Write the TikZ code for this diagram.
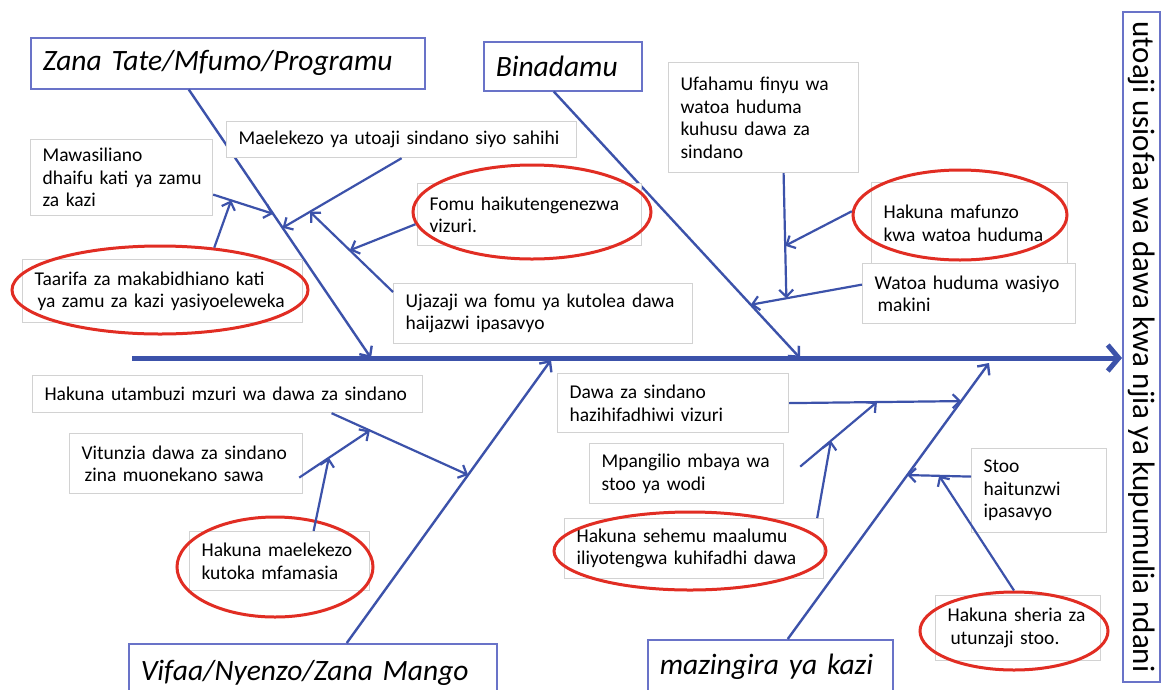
\documentclass[tikz,border=0pt]{standalone}
\usepackage{fontspec}
\setmainfont{Carlito}
\usetikzlibrary{arrows.meta,shapes.geometric,calc}
\definecolor{bone}{RGB}{60,82,170}
\definecolor{hdr}{RGB}{105,115,200}
\definecolor{boxgray}{RGB}{210,210,210}
\definecolor{ovred}{RGB}{225,45,35}
\newcommand\tline[1]{\mbox{#1}}
\begin{document}
\begin{tikzpicture}[x=1pt,y=-1pt,
  cause/.style={draw=boxgray, line width=1.2pt, fill=white, anchor=north west, align=left,
    inner xsep=12pt, inner ysep=0pt, font=\fontsize{19.5}{22.5}\selectfont},
  hdrbox/.style={draw=hdr, line width=1.5pt, fill=white, anchor=north west, align=left,
    inner xsep=12pt, inner ysep=0pt, font=\fontsize{29.5}{33}\selectfont\itshape},
  oval/.style={ellipse, draw=ovred, line width=3pt, inner sep=0pt},
  arr/.style={draw=bone, line width=2.2pt, -{Straight Barb[length=7pt,width=14pt]}},
  bonearr/.style={draw=bone, line width=2.4pt, -{Straight Barb[length=8pt,width=15pt]}},
  spine/.style={draw=bone, line width=5pt, -{Straight Barb[length=11pt,width=26pt]}}
]
\useasboundingbox (0,0) rectangle (1162,689);
\fill[white] (0,0) rectangle (1162,689);

% headers
\node[hdrbox, minimum width=394, minimum height=51, text width=370] (h1) at (30,37) {\tline{Zana Tate/Mfumo/Programu}};
\node[hdrbox, minimum width=158, minimum height=49, text width=134] (h2) at (483,41) {\tline{Binadamu}};
\node[hdrbox, minimum width=368, minimum height=58, text width=344] (h3) at (128,643) {\tline{Vifaa/Nyenzo/Zana Mango}};
\node[hdrbox, minimum width=245, minimum height=54, text width=221] (h4) at (647,639) {\tline{mazingira ya kazi}};
\node[draw=hdr, line width=1.5pt, fill=white, rotate=-90, minimum width=670, minimum height=37,
  inner sep=0pt, font=\fontsize{31}{34}\selectfont] (r) at (1141.5,347) {utoaji usiofaa wa dawa kwa njia ya kupumulia ndani};

% bones and spine
\coordinate (b1a) at ([xshift=-39pt]h1.south);
\coordinate (b1b) at (371,358);
\coordinate (b2a) at ([xshift=-9pt]h2.south);
\coordinate (b2b) at (800,358);
\coordinate (b3a) at ([xshift=34pt]h3.north);
\coordinate (b3b) at (551,360);
\coordinate (b4a) at ([xshift=17.5pt]h4.north);
\coordinate (b4b) at (989,363);
\coordinate (spS) at (132,358);
\coordinate (spE) at (1122,358);

\draw[spine] (spS) -- (spE);
\draw[bonearr] (b1a) -- (b1b);
\draw[bonearr] (b2a) -- (b2b);
\draw[bonearr] (b3a) -- (b3b);
\draw[bonearr] (b4a) -- (b4b);

% cause boxes
\node[cause, minimum width=182, minimum height=76, text width=158] (c1) at (30,139) {\tline{Mawasiliano}\\\tline{dhaifu kati ya zamu}\\\tline{za kazi}};
\node[cause, minimum width=280, minimum height=63, text width=256] (c2) at (22,259) {\tline{Taarifa za makabidhiano kati}\\\tline{\hspace*{3pt}ya zamu za kazi yasiyoeleweka}};
\node[cause, minimum width=350, minimum height=36, text width=326] (c3) at (226,121) {\tline{Maelekezo ya utoaji sindano siyo sahihi}};
\node[cause, minimum width=224, minimum height=62, text width=200] (c4) at (417,183) {\tline{Fomu haikutengenezwa}\\\tline{vizuri.}};
\node[cause, minimum width=299, minimum height=60, text width=275] (c5) at (393,283) {\tline{Ujazaji wa fomu ya kutolea dawa}\\\tline{haijazwi ipasavyo}};
\node[cause, minimum width=190, minimum height=110, text width=166] (c6) at (668,62) {\tline{Ufahamu finyu wa}\\\tline{watoa huduma}\\\tline{kuhusu dawa za}\\\tline{sindano}};
\node[cause, minimum width=196, minimum height=81, text width=172] (c7) at (871,182) {\tline{Hakuna mafunzo}\\\tline{kwa watoa huduma}};
\node[cause, minimum width=213, minimum height=60, text width=189] (c8) at (862,263) {\tline{Watoa huduma wasiyo}\\\tline{\hspace*{3pt}makini}};
\node[cause, minimum width=390, minimum height=37, text width=366] (c9) at (32,375) {\tline{Hakuna utambuzi mzuri wa dawa za sindano}};
\node[cause, minimum width=233, minimum height=60, text width=209] (c10) at (69,433) {\tline{Vitunzia dawa za sindano}\\\tline{\hspace*{3pt}zina muonekano sawa}};
\node[cause, minimum width=180, minimum height=59, text width=156] (c11) at (189,531) {\tline{Hakuna maelekezo}\\\tline{kutoka mfamasia}};
\node[cause, minimum width=231, minimum height=59, text width=207] (c12) at (557,373) {\tline{Dawa za sindano}\\\tline{hazihifadhiwi vizuri}};
\node[cause, minimum width=194, minimum height=60, text width=170] (c13) at (589,443) {\tline{Mpangilio mbaya wa}\\\tline{stoo ya wodi}};
\node[cause, minimum width=259, minimum height=60, text width=235] (c14) at (564,518) {\tline{Hakuna sehemu maalumu}\\\tline{iliyotengwa kuhifadhi dawa}};
\node[cause, minimum width=135, minimum height=84, text width=111] (c15) at (971,448) {\tline{Stoo}\\\tline{haitunzwi}\\\tline{ipasavyo}};
\node[cause, minimum width=165, minimum height=65, text width=141] (c16) at (935,595) {\tline{Hakuna sheria za}\\\tline{\hspace*{3pt}utunzaji stoo.}};

% red ovals
\node[oval, minimum width=296, minimum height=88] (e1) at (160,290) {};
\node[oval, minimum width=238, minimum height=94] (e2) at (532,212) {};
\node[oval, minimum width=214, minimum height=90] (e3) at (960,215) {};
\node[oval, minimum width=196, minimum height=100] (e4) at (275,567) {};
\node[oval, minimum width=272, minimum height=78] (e5) at (690,551) {};
\node[oval, minimum width=188, minimum height=78] (e6) at (1014,631) {};

% arrow end points
\coordinate (a1s) at ([yshift=-17pt]c1.east);
\coordinate (p1) at ($(b1a)!0.463!(b1b)$);
\coordinate (p2) at ($(a1s)!0.30!(p1)$);
\coordinate (p3) at ($(b1a)!0.515!(b1b)$);
\coordinate (a4s) at ([yshift=-9pt]c5.north west);
\coordinate (p4) at ($(c3.south)!0.77!(p3)$);
\coordinate (p5) at ($(a4s)!0.52!(p4)$);
\coordinate (a7s) at ([yshift=9pt]c8.west);
\coordinate (p7) at ($(b2a)!0.80!(b2b)$);
\coordinate (a6s) at ([xshift=20pt]c6.south);
\coordinate (p6) at ($(a7s)!0.68!(p7)$);
\coordinate (p8) at ($(a6s)!0.58!(p6)$);
\coordinate (a9s) at ([xshift=104pt]c9.south);
\coordinate (p9) at ($(b3a)!0.594!(b3b)$);
\coordinate (a10s) at ([yshift=-14pt,xshift=-4pt]c10.east);
\coordinate (p10) at ($(a9s)!0.28!(p9)$);
\coordinate (a11s) at ([xshift=34pt]c11.north);
\coordinate (p11) at ($(a10s)!0.42!(p10)$);
\coordinate (p12) at ($(b4a)!0.862!(b4b)$);
\coordinate (a13s) at ([xshift=16pt,yshift=7pt]c13.east);
\coordinate (p13) at ($(c12.east)!0.51!(p12)$);
\coordinate (a14s) at ([xshift=-7pt]c14.north east);
\coordinate (p14) at ($(a13s)!0.40!(p13)$);
\coordinate (a15s) at ([yshift=14pt]c15.west);
\coordinate (p15) at ($(b4a)!0.594!(b4b)$);
\coordinate (p16) at ($(a15s)!0.50!(p15)$);

% arrows
\draw[arr] (a1s) -- (p1);
\draw[arr] (e1.38) -- (p2);
\draw[arr] (c3.south) -- (p3);
\draw[arr] (a4s) -- (p4);
\draw[arr] (e2.186) -- (p5);
\draw[arr] (a6s) -- (p6);
\draw[arr] (a7s) -- (p7);
\draw[arr] (e3.178) -- (p8);
\draw[arr] (a9s) -- (p9);
\draw[arr] (a10s) -- (p10);
\draw[arr] (a11s) -- (p11);
\draw[arr] (c12.east) -- (p12);
\draw[arr] (a13s) -- (p13);
\draw[arr] (a14s) -- (p14);
\draw[arr] (a15s) -- (p15);
\draw[arr] (e6.north) -- (p16);
\end{tikzpicture}
\end{document}
